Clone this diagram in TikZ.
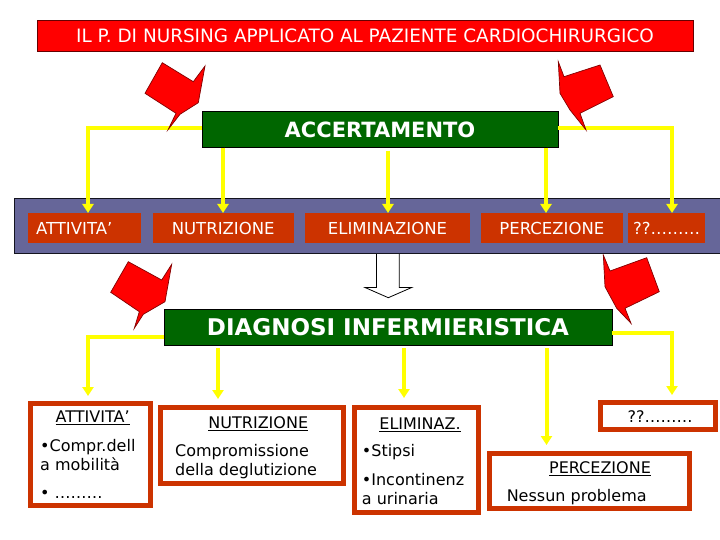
\documentclass[tikz,border=0pt]{standalone}
\usepackage{fontspec}
\setmainfont{DejaVu Sans}
\usetikzlibrary{arrows.meta,calc}
\definecolor{titlered}{RGB}{255,0,0}
\definecolor{boxgreen}{RGB}{0,102,0}
\definecolor{slate}{RGB}{102,102,153}
\definecolor{rust}{RGB}{204,51,0}
\definecolor{ylw}{RGB}{255,255,0}
\tikzset{
  titlebox/.style={fill=titlered, draw=black!60!red, line width=1pt, inner sep=0pt, text=white,
    font=\fontsize{18.4}{20}\selectfont},
  greenbox/.style={fill=boxgreen, draw=black, line width=0.8pt, inner sep=0pt, text=white},
  bandbox/.style={fill=rust, inner sep=0pt, text=white, minimum height=29.4pt,
    font=\fontsize{16.5}{18}\selectfont},
  lowbox/.style={draw=rust, line width=5pt, fill=white, inner sep=0pt},
  lowtitle/.style={inner sep=0pt, anchor=base, font=\fontsize{16}{18}\selectfont},
  lowline/.style={inner sep=0pt, anchor=base west, font=\fontsize{16}{18}\selectfont},
  yline/.style={draw=ylw, line width=4pt},
  yarrow/.style={yline, -{Triangle[width=11pt,length=9pt]}},
  redarrow/.style={fill=red, draw=red!50!black, line width=0.7pt, line join=miter},
  hollow/.style={fill=white, draw=black, line width=0.8pt}
}
\begin{document}
\begin{tikzpicture}[x=1pt,y=-1pt]
\useasboundingbox (0,0) rectangle (720,540);

% hollow arrow (under the band)
\draw[hollow] (376.5,252) -- (376.5,287.5) -- (365,287.5) -- (388.3,297.7) -- (411.7,287.5) -- (399.3,287.5) -- (399.3,252);

% title
\node[titlebox, minimum width=656pt, minimum height=30.3pt] (title) at (365,35.9)
  {IL P. DI NURSING APPLICATO AL PAZIENTE CARDIOCHIRURGICO};

% ACCERTAMENTO
\node[greenbox, minimum width=356pt, minimum height=35.8pt, font=\fontsize{21}{23}\bfseries] (accert) at (380,129.4) {ACCERTAMENTO};

% band
\node[fill=slate, draw=black!80!slate, line width=1pt, minimum width=708pt, minimum height=54pt, inner sep=0pt] (band) at (368,226) {};

\node[bandbox, minimum width=112.4pt] (b1) at (84.6,228) {\makebox[97pt][l]{ATTIVITA’}};
\node[bandbox, minimum width=140.8pt] (b2) at (223.2,228) {NUTRIZIONE};
\node[bandbox, minimum width=165pt] (b3) at (387.5,228) {ELIMINAZIONE};
\node[bandbox, minimum width=142.3pt] (b4) at (551.85,228) {PERCEZIONE};
\node[bandbox, minimum width=76.6pt] (b5) at (666.7,228) {??………};

% DIAGNOSI
\node[greenbox, minimum width=448pt, minimum height=36pt, font=\fontsize{23}{25}\bfseries] (diag) at (388,327) {DIAGNOSI INFERMIERISTICA};

% lower boxes
\node[lowbox, minimum width=119.4pt, minimum height=102.6pt] (l1) at (90.5,454.5) {};
\node[lowbox, minimum width=182.4pt, minimum height=75.7pt] (l2) at (252,445.35) {};
\node[lowbox, minimum width=124pt, minimum height=105pt] (l3) at (416.2,460) {};
\node[lowbox, minimum width=114.7pt, minimum height=26.7pt] (l5) at (658.2,415.85) {};
\node[lowbox, minimum width=200pt, minimum height=55pt] (l4) at (589.2,480.7) {};

% lower texts
\node[lowtitle] (l1t) at (92.7,422.3) {\underline{ATTIVITA’}};
\node[lowline] (l1a) at (40,451.7) {•Compr.dell};
\node[lowline] (l1b) at (40,470) {a mobilità};
\node[lowline] (l1c) at (40,498.3) {• ………};

\node[lowtitle] (l2t) at (258.3,428.3) {\underline{NUTRIZIONE}};
\node[lowline] (l2a) at (175,456.7) {Compromissione};
\node[lowline] (l2b) at (175,475) {della deglutizione};

\node[lowtitle] (l3t) at (420,429.3) {\underline{ELIMINAZ.}};
\node[lowline] (l3a) at (361.7,456) {•Stipsi};
\node[lowline] (l3b) at (361.7,485) {•Incontinenz};
\node[lowline] (l3c) at (361.7,504) {a urinaria};

\node[lowtitle] (l5t) at (660,422.7) {??………};

\node[lowtitle] (l4t) at (600,473.3) {\underline{PERCEZIONE}};
\node[lowtitle] (l4a) at (576.7,501.7) {Nessun problema};

% arrow tip coordinates
\coordinate (t1) at (88,213);
\coordinate (t2) at (223,213);
\coordinate (t3) at (388,213);
\coordinate (t4) at (546,213);
\coordinate (t5) at (672,213);
\coordinate (u1) at (88,396);
\coordinate (u2) at (218,399);
\coordinate (u3) at (404,398);
\coordinate (u4) at (546.5,445);
\coordinate (u5) at (672,395);

% yellow connectors: ACCERTAMENTO -> band
\draw[yarrow] ([yshift=1pt]accert.west) -| (t1);
\draw[yarrow] ([yshift=1pt]accert.east) -| (t5);
\draw[yarrow] (accert.south -| t2) -- (t2);
\draw[yarrow] ($(accert.south -| t3)+(0,3)$) -- (t3);
\draw[yarrow] (accert.south -| t4) -- (t4);

% yellow connectors: DIAGNOSI -> lower boxes
\draw[yarrow] ([yshift=-9.5pt]diag.west) -| (u1);
\draw[yarrow] ([yshift=-6pt]diag.east) -| (u5);
\draw[yarrow] ($(diag.south -| u2)+(0,3)$) -- (u2);
\draw[yarrow] ($(diag.south -| u3)+(0,3)$) -- (u3);
\draw[yarrow] ($(diag.south -| u4)+(0,3)$) -- (u4);

% red block arrows
\draw[redarrow] (162.3,62.7) -- (193.3,81.7) -- (205,66) -- (198.3,102.7) -- (180,114.3) -- (168.3,129.3) -- (176,113.3) -- (145,93.3) -- cycle;
\draw[redarrow] (558.3,61.7) -- (564,76.7) -- (600,65) -- (613.3,96.7) -- (580,113.3) -- (586,130) -- (570,110) -- (560,93.3) -- cycle;
\draw[redarrow] (128.3,261.7) -- (161.7,280) -- (171.7,264.3) -- (165,301.7) -- (143.3,314.3) -- (134.3,328.3) -- (139.3,311.7) -- (110.7,292.3) -- cycle;
\draw[redarrow] (603.3,255) -- (610,271) -- (646.7,257.7) -- (659.3,291.7) -- (625,308.3) -- (631,323.3) -- (616.7,308.3) -- (605,286.7) -- cycle;
\end{tikzpicture}
\end{document}
